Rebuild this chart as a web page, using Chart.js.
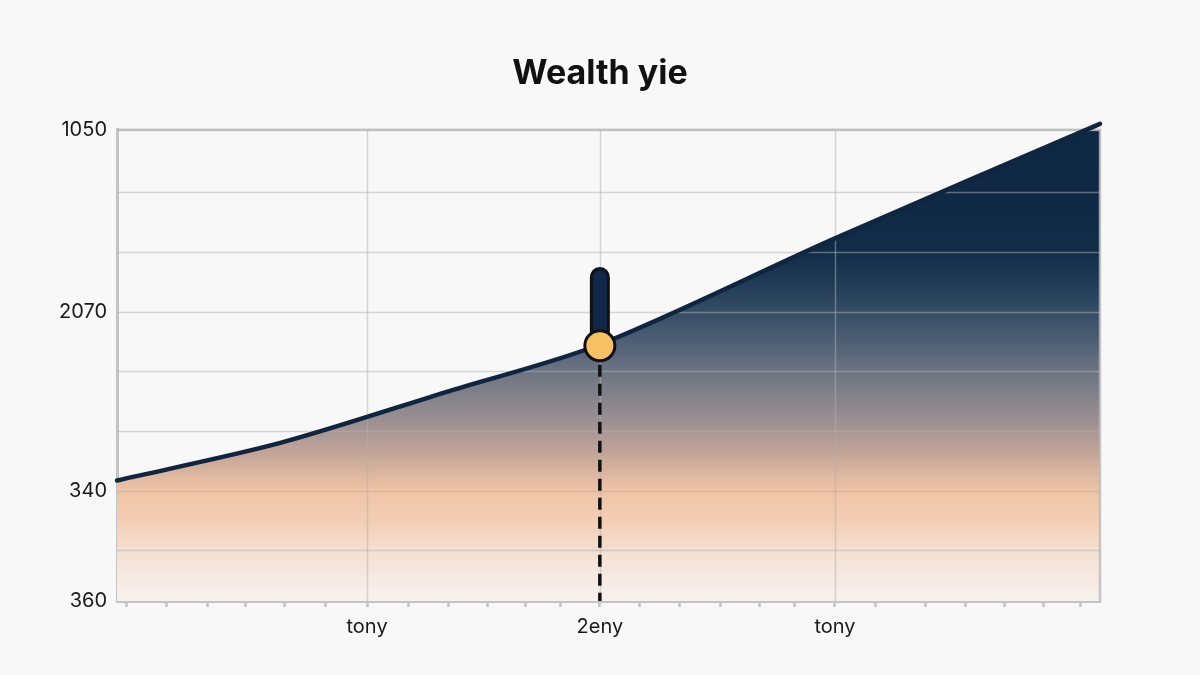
<!DOCTYPE html>
<html>
<head>
<meta charset="utf-8">
<script src="https://cdn.jsdelivr.net/npm/chart.js@4"></script>
<style>
  html, body { margin: 0; padding: 0; background: #f8f8f8; }
  #wrap { width: 1200px; height: 675px; }
</style>
</head>
<body>
<div id="wrap"><canvas id="grafico" width="1200" height="675"></canvas></div>
<script>
// Datos
var titulo = 'Wealth yie';
var lineaX = [0, 4.15, 8.45, 12.28, 18.26, 25];
var lineaY = [202, 265, 352, 430, 608, 800];

var ticksY = [0, 85, 185, 285, 385, 485, 585, 685, 790];
var etiquetasY = {0: '360', 185: '340', 485: '2070', 790: '1050'};

var ticksXMenores = [0.25, 1.26, 2.3, 3.27, 4.25, 5.31, 7.42, 8.42, 9.42, 10.4, 11.27,
                     13.3, 14.3, 15.36, 16.34, 17.23, 19.29, 20.55, 21.58, 22.58, 23.56, 24.5];
var ticksXMayores = [6.36, 12.28, 18.26];
var etiquetasX = ['tony', '2eny', 'tony'];

// marcador: punto sobre la curva, barra encima y guia punteada
var marcadorX = [12.28];
var marcadorY = [428];
var marcadorTope = [543];

function puntos(xs, ys) {
    var res = [];
    for (let i = 0; i < xs.length; i++) res.push({x: xs[i], y: ys[i]});
    return res;
}

// degradado del area, de azul noche a melocoton
function degradado(context) {
    var area = context.chart.chartArea;
    if (!area) return 'rgba(0,0,0,0)';
    var g = context.chart.ctx.createLinearGradient(0, area.top, 0, area.bottom);
    g.addColorStop(0, '#0e2742');
    g.addColorStop(0.26, '#112c48');
    g.addColorStop(0.34, '#253f5a');
    g.addColorStop(0.44, '#4a5c72');
    g.addColorStop(0.51, '#6b7382');
    g.addColorStop(0.615, '#9a8f92');
    g.addColorStop(0.685, '#c2a498');
    g.addColorStop(0.765, '#efc4a5');
    g.addColorStop(0.83, '#f3ceb4');
    g.addColorStop(0.9, '#f5e1d4');
    g.addColorStop(1, '#f7f2ef');
    return g;
}

// la rejilla se pinta encima del relleno, debajo de la linea
var rejillaEncima = {
    id: 'rejillaEncima',
    afterDatasetDraw: function(chart, args) {
        if (args.index !== 5) return;
        var ctx = chart.ctx, a = chart.chartArea;
        var ejeX = chart.scales.x, ejeY = chart.scales.y;
        ctx.save();
        ctx.strokeStyle = 'rgba(175,175,175,0.5)';
        ctx.lineWidth = 1.5;
        ticksY.forEach(function(v) {
            if (v === 0) return;
            var y = Math.round(ejeY.getPixelForValue(v)) + 0.5;
            ctx.beginPath(); ctx.moveTo(a.left, y); ctx.lineTo(a.right, y); ctx.stroke();
        });
        ticksXMayores.forEach(function(v) {
            var x = Math.round(ejeX.getPixelForValue(v)) + 0.5;
            ctx.beginPath(); ctx.moveTo(x, a.top); ctx.lineTo(x, a.bottom); ctx.stroke();
        });
        ctx.strokeStyle = 'rgba(185,185,185,0.8)';
        ctx.lineWidth = 2.5;
        ctx.beginPath();
        ctx.moveTo(a.left, a.top); ctx.lineTo(a.right, a.top); ctx.lineTo(a.right, a.bottom);
        ctx.stroke();
        ctx.restore();
    }
};

var ctx = document.getElementById('grafico').getContext('2d');
var grafico = new Chart(ctx, {
    type: 'line',
    data: {
        datasets: [{
            // punto amarillo
            data: puntos(marcadorX, marcadorY),
            showLine: false,
            pointRadius: 15,
            pointBackgroundColor: '#f8c264',
            pointBorderColor: '#111111',
            pointBorderWidth: 3,
            order: 0
        }, {
            // barra del marcador
            data: puntos(marcadorX.concat(marcadorX), marcadorY.concat(marcadorTope)),
            borderColor: '#10294a',
            borderWidth: 14,
            borderCapStyle: 'round',
            pointRadius: 0,
            order: 1
        }, {
            // contorno de la barra
            data: puntos(marcadorX.concat(marcadorX), marcadorY.concat(marcadorTope)),
            borderColor: '#111111',
            borderWidth: 20,
            borderCapStyle: 'round',
            pointRadius: 0,
            order: 2
        }, {
            // guia punteada
            data: puntos(marcadorX.concat(marcadorX), marcadorY.concat([0])),
            borderColor: '#111111',
            borderWidth: 3.5,
            borderDash: [12, 7],
            pointRadius: 0,
            order: 3
        }, {
            // curva
            data: puntos(lineaX, lineaY),
            borderColor: '#0f2540',
            borderWidth: 4.5,
            borderCapStyle: 'round',
            tension: 0.3,
            pointRadius: 0,
            fill: false,
            clip: false,
            order: 4
        }, {
            // area con degradado
            data: puntos(lineaX, lineaY),
            borderWidth: 0,
            borderColor: 'rgba(0,0,0,0)',
            backgroundColor: degradado,
            tension: 0.3,
            pointRadius: 0,
            fill: 'origin',
            clip: false,
            order: 5
        }]
    },
    options: {
        responsive: false,
        animation: false,
        events: [],
        layout: { padding: { left: 0, right: 0, top: 45, bottom: 28 } },
        plugins: {
            legend: { display: false },
            tooltip: { enabled: false },
            title: {
                display: true,
                text: titulo,
                color: '#111111',
                font: { family: 'Inter', size: 34, weight: 'bold' },
                padding: { top: 8, bottom: 36 }
            }
        },
        scales: {
            x: {
                type: 'linear',
                min: 0,
                max: 25,
                afterBuildTicks: function(eje) {
                    var valores = ticksXMenores.concat(ticksXMayores).sort(function(a, b) { return a - b; });
                    eje.ticks = valores.map(function(v) { return {value: v}; });
                },
                ticks: {
                    autoSkip: false,
                    maxRotation: 0,
                    padding: 8,
                    color: '#1a1a1a',
                    font: { family: 'Inter', size: 20 },
                    callback: function(v) {
                        var i = ticksXMayores.indexOf(v);
                        return i >= 0 ? etiquetasX[i] : '';
                    }
                },
                grid: {
                    color: 'rgba(0,0,0,0)',
                    tickColor: '#c4c4c4',
                    tickLength: 6,
                    tickWidth: 2.5
                },
                border: { color: '#c4c4c4', width: 3 }
            },
            y: {
                min: 0,
                max: 790,
                afterBuildTicks: function(eje) {
                    eje.ticks = ticksY.map(function(v) { return {value: v}; });
                },
                afterFit: function(eje) { eje.width = 117; },
                ticks: {
                    autoSkip: false,
                    padding: 10,
                    color: '#1a1a1a',
                    font: { family: 'Inter', size: 20 },
                    callback: function(v) { return etiquetasY[v] || ''; }
                },
                grid: { color: 'rgba(0,0,0,0)', drawTicks: false },
                border: { color: '#c4c4c4', width: 3 }
            },
            // eje vacio a la derecha, solo reserva el margen
            derecha: {
                position: 'right',
                min: 0,
                max: 790,
                afterFit: function(eje) { eje.width = 100; },
                ticks: { display: false },
                grid: { display: false },
                border: { display: false }
            }
        }
    },
    plugins: [rejillaEncima]
});
</script>
</body>
</html>
